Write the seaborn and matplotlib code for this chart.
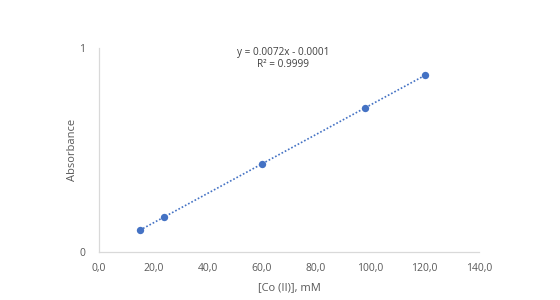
import numpy as np
import pandas as pd
import matplotlib
matplotlib.use("Agg")
import matplotlib.pyplot as plt
import seaborn as sns

# Daten
conc_mM = [15, 24, 60, 98, 120]
absorbance = [0.107, 0.172, 0.431, 0.705, 0.866]
x_ticks = [0, 20, 40, 60, 80, 100, 120, 140]
y_ticks = [0, 1]
equation = "y = 0.0072x - 0.0001"
r_squared = "R² = 0.9999"

sns.set_style("white")
plt.rcParams['font.family'] = ['Open Sans', 'DejaVu Sans']

df = pd.DataFrame({'conc': conc_mM, 'abs': absorbance})
slope, intercept = np.polyfit(df['conc'], df['abs'], 1)
df['fit'] = slope * df['conc'] + intercept

fig = plt.figure(figsize=(5.6, 3.0), dpi=100)
ax = fig.add_axes([0.177, 0.16, 0.678, 0.68])

blue = '#4472C4'
grey = '#595959'

sns.lineplot(data=df, x='conc', y='fit', ax=ax, color=blue,
             linestyle=(0, (1, 1.2)), linewidth=1.2)
sns.scatterplot(data=df, x='conc', y='abs', ax=ax, color=blue,
                s=28, edgecolor=blue, linewidth=0, zorder=3)

ax.set_xlim(0, 140)
ax.set_ylim(0, 1)
ax.set_xticks(x_ticks)
ax.set_xticklabels([f"{t:.1f}".replace('.', ',') for t in x_ticks])
ax.set_yticks(y_ticks)
ax.tick_params(axis='both', length=0, labelsize=7.5, colors=grey)
ax.tick_params(axis='x', pad=8)
ax.tick_params(axis='y', pad=10)

for side in ['top', 'right']:
    ax.spines[side].set_visible(False)
for side in ['left', 'bottom']:
    ax.spines[side].set_color('#D9D9D9')
    ax.spines[side].set_linewidth(0.9)

ax.set_xlabel('[Co (II)], mM', fontsize=8, color=grey, labelpad=6)
ax.set_ylabel('Absorbance', fontsize=8, color=grey, labelpad=1)

ax.text(0.484, 0.98, equation, transform=ax.transAxes,
        ha='center', va='center', fontsize=7.2, color='#404040')
ax.text(0.484, 0.92, r_squared, transform=ax.transAxes,
        ha='center', va='center', fontsize=7.2, color='#404040')

fig.savefig('out.png', dpi=100)
plt.close(fig)
